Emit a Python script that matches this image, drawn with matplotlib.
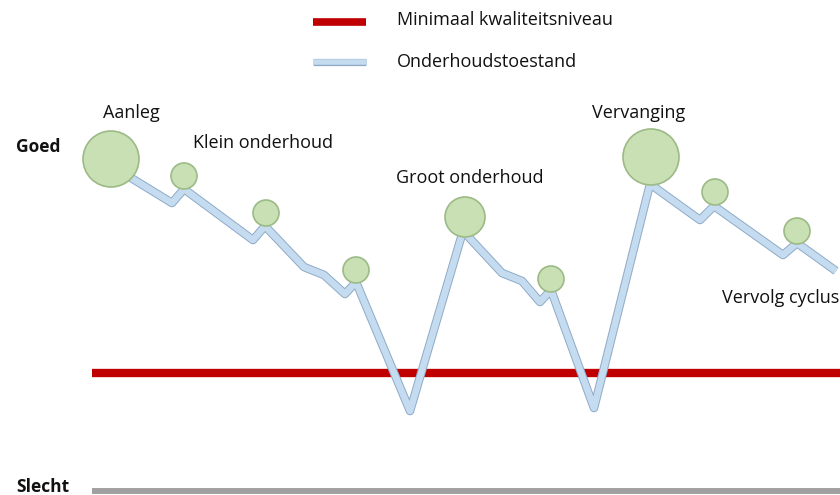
import matplotlib
matplotlib.use("Agg")
import matplotlib.pyplot as plt
from matplotlib.patches import Circle
import matplotlib.patheffects as pe

plt.rcParams['font.family'] = ['Open Sans', 'DejaVu Sans']

# Schematic maintenance-condition line (x: time, y: condition; smaller y = better, axis inverted)
state_x = [128, 172, 184, 253, 265, 304, 324, 345, 356, 410, 463, 502, 522, 540, 551, 594, 650, 700, 714, 783, 797, 836]
state_y = [176, 203, 189, 240, 226, 267, 275, 294, 282, 411, 231, 273, 281, 302, 290, 408, 184, 220, 206, 255, 243, 271]

# Maintenance events (circles)
event_x = [111, 184, 266, 356, 465, 551, 651, 715, 797]
event_y = [159, 176, 213, 270, 217, 279, 157, 192, 231]
event_r = [28, 13, 13, 13, 20, 13, 28, 13, 13]

min_level = 373
bottom_level = 491
line_start, line_end = 92, 840

labels = ["Aanleg", "Klein onderhoud", "Groot onderhoud", "Vervanging", "Vervolg cyclus"]
label_x = [103, 193, 396, 592, 722]
label_y = [113, 143, 178, 113, 298]

legend_labels = ["Minimaal kwaliteitsniveau", "Onderhoudstoestand"]

fig = plt.figure(figsize=(8.4, 4.95), dpi=100)
ax = fig.add_axes([0, 0, 1, 1])
ax.set_xlim(0, 840)
ax.set_ylim(495, 0)
ax.axis('off')

red = '#c00000'
blue_fill = '#c5dcf0'
blue_edge = '#8eaac8'
green_fill = '#c8e0b4'
green_edge = '#9cba86'

# bottom gray line
ax.plot([line_start, line_end], [bottom_level, bottom_level], color='#a0a0a0', lw=3.2,
        solid_capstyle='butt', zorder=1,
        path_effects=[pe.Stroke(linewidth=4, foreground='#8c8c8c'), pe.Normal()])

# red minimum level
ax.plot([line_start, line_end], [min_level, min_level], color=red, lw=6,
        solid_capstyle='butt', zorder=3)

# maintenance state line
ax.plot(state_x, state_y, color=blue_fill, lw=4.8, solid_joinstyle='round',
        solid_capstyle='butt', zorder=4,
        path_effects=[pe.Stroke(linewidth=6.2, foreground=blue_edge), pe.Normal()])

for x, y, r in zip(event_x, event_y, event_r):
    ax.add_patch(Circle((x, y), r, facecolor=green_fill, edgecolor=green_edge, lw=1.2, zorder=5))

for t, x, y in zip(labels, label_x, label_y):
    ax.text(x, y, t, fontsize=13, ha='left', va='center', color='#111111', zorder=6)

ax.text(16, 147, "Goed", fontsize=12.5, fontweight='bold', ha='left', va='center', color='#111111')
ax.text(16, 487, "Slecht", fontsize=12.5, fontweight='bold', ha='left', va='center', color='#111111')

# legend
ax.plot([313, 366], [22, 22], color=red, lw=5.5, solid_capstyle='butt')
ax.plot([313, 366], [62, 62], color=blue_fill, lw=4.0, solid_capstyle='butt',
        path_effects=[pe.Stroke(linewidth=5.2, foreground=blue_edge), pe.Normal()])
ax.text(397, 20, legend_labels[0], fontsize=13, ha='left', va='center', color='#111111')
ax.text(397, 62, legend_labels[1], fontsize=13, ha='left', va='center', color='#111111')

fig.savefig('out.png', dpi=100)
